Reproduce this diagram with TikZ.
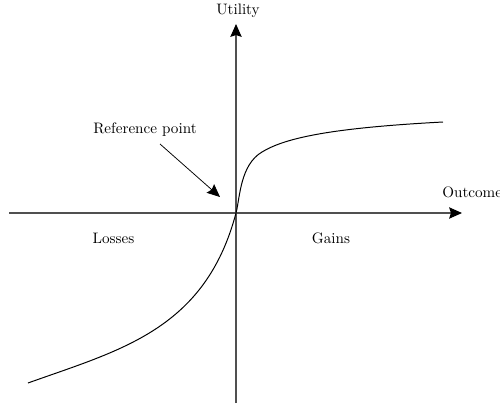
\documentclass[tikz,border=0pt]{standalone}
\usetikzlibrary{arrows.meta}
\definecolor{axisgray}{RGB}{80,80,80}
\tikzset{
  axisline/.style={draw=axisgray, line width=0.7pt, -{Stealth[length=8.5pt,width=7.5pt,inset=1.2pt,black]}},
  curveline/.style={draw=black, line width=0.65pt},
  pointer/.style={draw=black, line width=0.5pt, -{Stealth[length=8.5pt,width=7.5pt,inset=1.2pt]}},
  lbl/.style={inner sep=0pt, font=\normalsize}
}
\begin{document}
\begin{tikzpicture}[x=0.66pt,y=-0.66pt]
\useasboundingbox (0,0) rectangle (500,406);
\clip (0,0) rectangle (500,406);
% axes anchors
\coordinate (xl) at (9,213);
\coordinate (xr) at (462,213);
\coordinate (yb) at (236,403);
\coordinate (yt) at (236,24);
\coordinate (o) at (236,213);
\draw[axisline] (xl) -- (xr);
\draw[axisline] (yb) -- (yt);
% labels
\node[lbl] (util) at (238,11) {Utility};
\node[lbl, anchor=west] (outc) at (442,192) {Outcome};
\node[lbl] (loss) at (113.5,238) {Losses};
\node[lbl] (gain) at (331,238) {Gains};
\node[lbl] (ref) at (145,130) {Reference point};
\coordinate (refs) at (160,144);
\coordinate (reft) at (220,197);
\draw[pointer] (refs) -- (reft);
% value curve
\coordinate (c0) at (28,383);
\coordinate (c1) at (262,152);
\coordinate (c2) at (443,122);
\draw[curveline] (c0) .. controls (120,350) and (205,330) .. (o)
  .. controls (240,198) and (240,165) .. (c1)
  .. controls (285,138) and (330,128) .. (c2);
\end{tikzpicture}
\end{document}
